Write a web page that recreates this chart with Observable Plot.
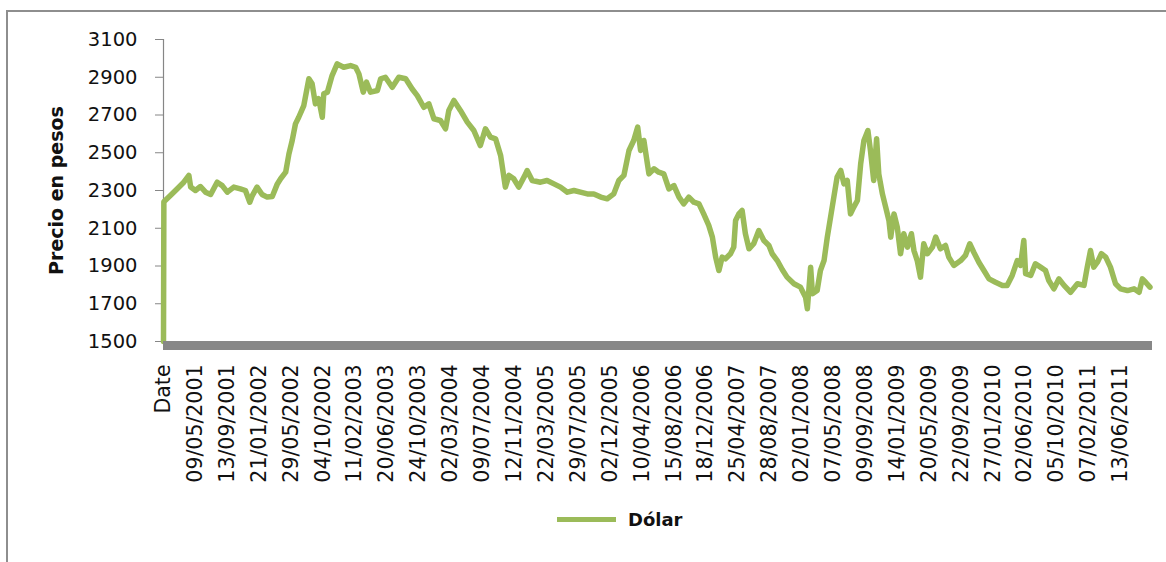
<!DOCTYPE html>
<html>
<head>
<meta charset="utf-8">
<script src="https://cdn.jsdelivr.net/npm/d3@7"></script>
<script src="https://cdn.jsdelivr.net/npm/@observablehq/plot@0.6"></script>
<style>
  body { margin: 0; background: #fff; }
  #wrap { position: relative; width: 1166px; height: 562px; overflow: hidden; background: #fff; }
  #frame { position: absolute; left: 6px; top: 10px; width: 1300px; height: 700px;
           border-left: 2px solid #8e8e8e; border-top: 2px solid #8e8e8e; }
  #chart { position: absolute; left: 0; top: 0; }
  #legend { position: absolute; left: 557px; top: 509px; display: flex; align-items: center;
            font: bold 18px "DejaVu Sans", sans-serif; color: #111; }
  #legend .sw { width: 59px; height: 5px; background: #9bbb59; margin-right: 12px; }
</style>
</head>
<body>
<div id="wrap">
  <div id="frame"></div>
  <div id="chart"></div>
  <div id="legend"><div class="sw"></div><span>Dólar</span></div>
</div>
<script>
// Category labels shown on the x axis (every 88th observation)
const dateLabels = ["Date","09/05/2001","13/09/2001","21/01/2002","29/05/2002","04/10/2002",
  "11/02/2003","20/06/2003","24/10/2003","02/03/2004","09/07/2004","12/11/2004",
  "22/03/2005","29/07/2005","02/12/2005","10/04/2006","15/08/2006","18/12/2006",
  "25/04/2007","28/08/2007","02/01/2008","07/05/2008","09/09/2008","14/01/2009",
  "20/05/2009","22/09/2009","27/01/2010","02/06/2010","05/10/2010","07/02/2011","13/06/2011"];
const labelStep = 88;           // observations between two labels
const totalObs = 2728;          // observations spanned by the axis

const obsIndex = [0,1,19,38,56,70,75,88,102,116,130,148,162,176,194,212,226,238,245,258,272,286,300,314,323,337,346,355,364,373,387,401,410,419,428,438,442,452,465,479,497,516,530,539,551,560,571,590,599,612,631,649,668,686,700,718,732,746,764,778,787,801,819,838,856,874,888,902,916,930,943,953,966,980,999,1003,1017,1040,1058,1077,1095,1114,1132,1150,1169,1187,1206,1224,1242,1256,1270,1284,1297,1308,1316,1325,1339,1353,1366,1380,1394,1408,1422,1435,1449,1463,1477,1490,1504,1514,1523,1532,1541,1550,1564,1573,1578,1587,1596,1605,1615,1628,1642,1656,1670,1679,1693,1707,1720,1739,1757,1771,1776,1785,1790,1803,1812,1822,1831,1840,1849,1858,1868,1877,1886,1895,1904,1914,1923,1932,1943,1950,1959,1967,1973,1983,1992,2001,2006,2015,2024,2033,2042,2052,2063,2070,2079,2088,2097,2107,2121,2130,2143,2157,2166,2180,2199,2212,2224,2235,2249,2263,2277,2295,2314,2327,2341,2355,2364,2373,2378,2392,2405,2419,2433,2442,2456,2470,2484,2502,2521,2539,2548,2557,2566,2576,2587,2599,2612,2626,2640,2659,2677,2691,2700,2709,2721];
// Dólar price in pesos at those observations
const dolar = [1500,2240,2273,2309,2344,2380,2318,2300,2321,2291,2279,2344,2326,2291,2318,2309,2300,2238,2273,2318,2279,2265,2268,2335,2362,2397,2494,2565,2653,2688,2750,2892,2865,2759,2786,2688,2812,2821,2909,2971,2953,2962,2953,2918,2821,2874,2821,2830,2892,2900,2847,2900,2892,2838,2803,2741,2759,2680,2671,2627,2724,2777,2724,2662,2618,2538,2627,2583,2574,2485,2318,2380,2362,2318,2388,2406,2353,2344,2353,2335,2318,2291,2300,2291,2282,2282,2265,2256,2282,2353,2380,2512,2565,2636,2512,2565,2388,2415,2397,2388,2309,2326,2265,2229,2265,2238,2229,2176,2115,2053,1947,1876,1947,1938,1965,2000,2141,2176,2194,2071,1991,2018,2088,2035,2009,1965,1929,1880,1841,1806,1788,1735,1673,1894,1753,1770,1876,1929,2053,2159,2265,2371,2406,2335,2353,2176,2212,2247,2441,2565,2618,2512,2353,2574,2388,2282,2212,2141,2053,2176,2106,1965,2071,2000,2071,1982,1929,1841,2018,1965,2000,2053,1991,2009,1947,1903,1929,1956,2018,1973,1920,1876,1832,1814,1797,1797,1850,1929,1903,2035,1859,1850,1912,1894,1876,1823,1779,1832,1797,1761,1806,1797,1894,1982,1894,1920,1965,1947,1894,1806,1779,1770,1779,1761,1832,1814,1788];

const yTicks = [1500,1700,1900,2100,2300,2500,2700,2900,3100];
const xTicks = dateLabels.map((d, i) => i * labelStep);

const data = obsIndex.map((o, i) => ({obs: o, value: dolar[i]}));

const chart = Plot.plot({
  width: 1166,
  height: 495,
  marginLeft: 163,
  marginRight: 14,
  marginTop: 39,
  marginBottom: 154,
  style: {fontFamily: "'DejaVu Sans', sans-serif", fontSize: "19.5px", color: "#111", background: "transparent", overflow: "visible"},
  x: {domain: [0, totalObs], ticks: xTicks, tickFormat: d => dateLabels[Math.round(d / labelStep)],
      tickRotate: -90, tickSize: 0, tickPadding: 23, label: null},
  y: {domain: [1500, 3100], ticks: yTicks, tickFormat: d => String(d), tickSize: 8, tickPadding: 18, label: null},
  marks: [
    Plot.ruleX([0], {stroke: "#868686", strokeWidth: 1.2}),
    Plot.line(data, {x: "obs", y: "value", stroke: "#9bbb59", strokeWidth: 5.5, strokeLinejoin: "round"}),
    Plot.ruleY([1500], {stroke: "#878787", strokeWidth: 9, dy: 4}),
    Plot.text(["Precio en pesos"], {frameAnchor: "left", textAnchor: "middle", lineAnchor: "middle", dx: -107, rotate: -90,
      fontWeight: "bold", fontSize: 19, fill: "#111"})
  ]
});

const svg = d3.select(chart);
svg.selectAll('[aria-label="y-axis tick"], [aria-label="y-axis"] .tick line, [aria-label="y-axis"] path')
   .attr("stroke", "#868686");
svg.selectAll('[aria-label="x-axis tick label"], [aria-label="x-axis"]').style("font-size", "20.5px");
document.getElementById("chart").appendChild(chart);
</script>
</body>
</html>
